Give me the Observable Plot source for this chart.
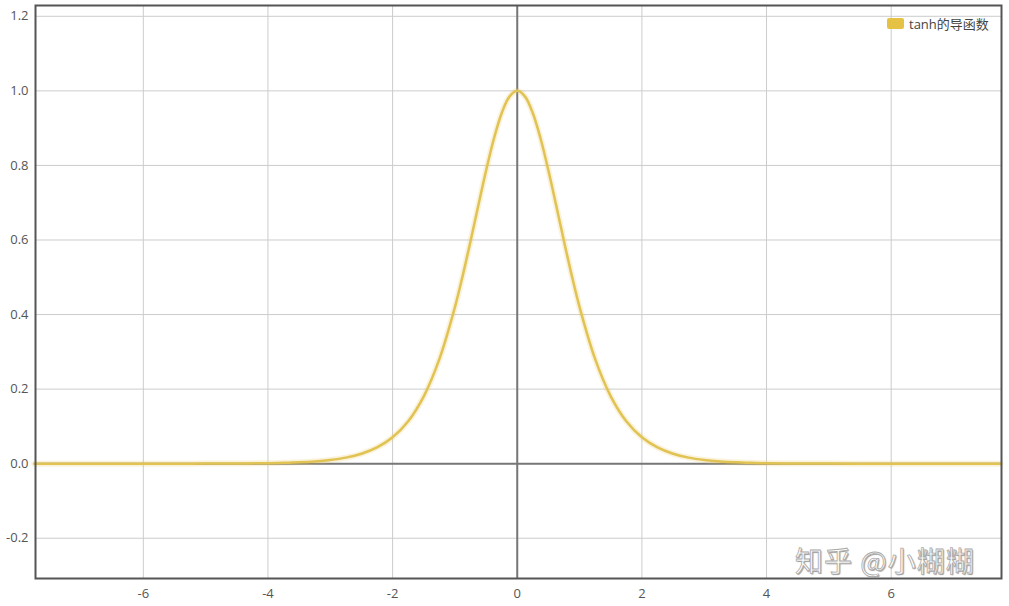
<!DOCTYPE html>
<html>
<head>
<meta charset="utf-8">
<script src="https://cdn.jsdelivr.net/npm/d3@7"></script>
<script src="https://cdn.jsdelivr.net/npm/@observablehq/plot@0.6"></script>
<style>
  html, body { margin: 0; padding: 0; background: #fff; }
  #wrap { position: relative; width: 1009px; height: 606px; font-family: "Open Sans", "Noto Sans CJK SC", sans-serif; }
  #legend { position: absolute; top: 14px; left: 887px; display: flex; align-items: center; font-size: 13px; color: #444; }
  #legend .sw { width: 17px; height: 11px; background: #e6c244; border-radius: 2px; margin-right: 5px; }
  #wm { position: absolute; left: 795px; top: 547px; font-size: 28px; line-height: 26px; height: 26px; color: #fff; letter-spacing: 1px;
        -webkit-text-stroke: 0.8px #aaa; text-shadow: 1px 1px 1px #999; font-family: "Noto Sans CJK SC", sans-serif; }
</style>
</head>
<body>
<div id="wrap">
  <div id="chart"></div>
  <div id="legend"><div class="sw"></div><span id="legendText"></span></div>
  <div id="wm">知乎 @小糊糊</div>
</div>
<script>
const seriesName = "tanh的导函数";
const xValues = [-7.75,-7,-6,-5.5,-5,-4.5,-4,-3.75,-3.5,-3.25,-3,-2.75,-2.5,-2.25,-2,-1.75,-1.5,-1.25,-1,-0.875,-0.75,-0.625,-0.5,-0.375,-0.25,-0.125,0,0.125,0.25,0.375,0.5,0.625,0.75,0.875,1,1.25,1.5,1.75,2,2.25,2.5,2.75,3,3.25,3.5,3.75,4,4.5,5,5.5,6,7,7.75];
const yValues = [0,0,0,0.0001,0.0002,0.0005,0.0013,0.0022,0.0036,0.0060,0.0099,0.0162,0.0266,0.0435,0.0707,0.1138,0.1807,0.2804,0.4200,0.5045,0.5966,0.6924,0.7864,0.8716,0.9400,0.9845,1.0000,0.9845,0.9400,0.8716,0.7864,0.6924,0.5966,0.5045,0.4200,0.2804,0.1807,0.1138,0.0707,0.0435,0.0266,0.0162,0.0099,0.0060,0.0036,0.0022,0.0013,0.0005,0.0002,0.0001,0,0,0];
const xTicks = [-6,-4,-2,0,2,4,6];
const yTicks = [-0.2,0,0.2,0.4,0.6,0.8,1.0,1.2];

const data = xValues.map((x, i) => ({x, y: yValues[i]}));
document.getElementById("legendText").textContent = seriesName;

const chart = Plot.plot({
  width: 1009,
  height: 606,
  marginLeft: 35,
  marginTop: 5,
  marginRight: 8,
  marginBottom: 28,
  style: {fontFamily: "'Open Sans', 'Noto Sans CJK SC', sans-serif", fontSize: "13px", color: "#555", background: "#fff"},
  x: {domain: [-7.73, 7.77], label: null},
  y: {domain: [-0.308, 1.229], label: null},
  marks: [
    Plot.gridX(xTicks, {stroke: "#ccc", strokeOpacity: 1, strokeWidth: 1}),
    Plot.gridY(yTicks, {stroke: "#ccc", strokeOpacity: 1, strokeWidth: 1}),
    Plot.ruleX([0], {stroke: "#777", strokeWidth: 2}),
    Plot.ruleY([0], {stroke: "#777", strokeWidth: 2}),
    Plot.line(data, {x: "x", y: "y", stroke: "#e6c65a", strokeWidth: 6, strokeOpacity: 0.22, curve: "catmull-rom"}),
    Plot.line(data, {x: "x", y: "y", stroke: "#e0c352", strokeWidth: 2.5, curve: "catmull-rom"}),
    Plot.frame({stroke: "#555", strokeWidth: 2}),
    Plot.axisX(xTicks, {tickSize: 0, tickPadding: 10, fill: "#555", label: null, tickFormat: d => String(d)}),
    Plot.axisY(yTicks, {tickSize: 0, tickPadding: 7, fill: "#555", label: null, tickFormat: d => d.toFixed(1)})
  ]
});
document.getElementById("chart").appendChild(chart);
</script>
</body>
</html>
